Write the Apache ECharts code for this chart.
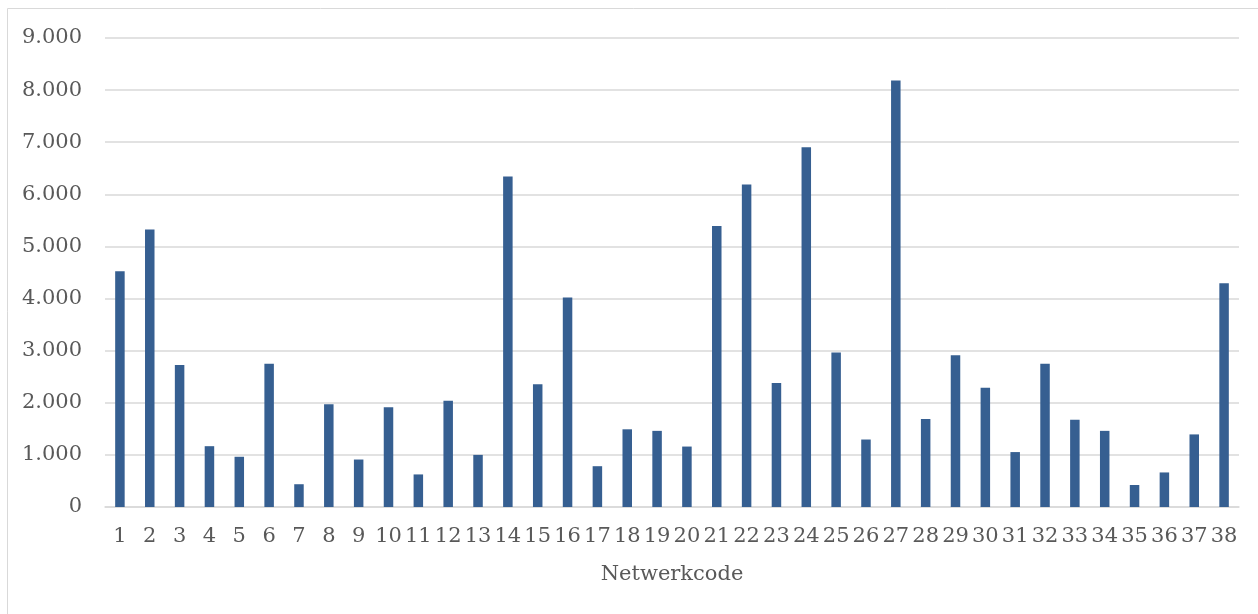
<!DOCTYPE html>
<html>
<head>
<meta charset="utf-8">
<script src="https://cdn.jsdelivr.net/npm/echarts@6/dist/echarts.min.js"></script>
<style>
  html, body { margin: 0; padding: 0; background: #fff; }
  #chart { width: 1258px; height: 614px; }
</style>
</head>
<body>
<div id="chart"></div>
<script>
var categories = [];
for (var i = 1; i <= 38; i++) categories.push(String(i));

var values = [
  4525, 5325, 2725, 1167, 964, 2748, 437, 1973, 911, 1913,
  625, 2041, 1000, 6340, 2357, 4021, 783, 1491, 1461, 1160,
  5392, 6190, 2380, 6905, 2967, 1295, 8185, 1687, 2914, 2289,
  1054, 2748, 1672, 1461, 422, 663, 1393, 4292
];

var yTicks = { min: 0, max: 9000, interval: 1000 };
var axisName = "Netwerkcode";

// 9000 -> "9.000"
function formatNL(v) {
  return String(v).replace(/\B(?=(\d{3})+(?!\d))/g, ".");
}

var font = '"DejaVu Serif", serif';
var chart = echarts.init(document.getElementById("chart"));

chart.setOption({
  animation: false,
  graphic: [
    {
      type: "rect",
      shape: { x: 7.5, y: 8.5, width: 1400, height: 800 },
      style: { fill: "none", stroke: "#d9d9d9", lineWidth: 1 },
      silent: true
    }
  ],
  grid: { left: 105, right: 19, top: 38, bottom: 107, containLabel: false },
  xAxis: {
    type: "category",
    data: categories,
    name: axisName,
    nameLocation: "middle",
    nameGap: 57,
    nameTextStyle: { color: "#595959", fontSize: 21, fontFamily: font },
    axisLine: { lineStyle: { color: "#d9d9d9", width: 1.5 } },
    axisTick: { show: false },
    axisLabel: {
      interval: 0,
      margin: 19,
      color: "#595959",
      fontSize: 21,
      fontFamily: font
    }
  },
  yAxis: {
    type: "value",
    min: yTicks.min,
    max: yTicks.max,
    interval: yTicks.interval,
    axisLine: { show: false },
    axisTick: { show: false },
    axisLabel: {
      margin: 23,
      color: "#595959",
      fontSize: 21,
      fontFamily: font,
      formatter: formatNL
    },
    splitLine: { lineStyle: { color: "#d9d9d9", width: 1.5 } }
  },
  series: [
    {
      type: "bar",
      data: values,
      barWidth: 9.5,
      itemStyle: { color: "#365f91" }
    }
  ]
});
</script>
</body>
</html>
